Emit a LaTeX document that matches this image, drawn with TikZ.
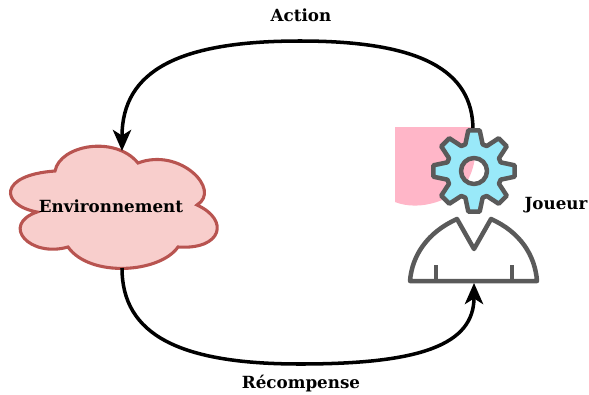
\documentclass[tikz,border=0pt]{standalone}
\usepackage{fontspec}
\setmainfont{DejaVu Serif}
\usetikzlibrary{arrows.meta}
\definecolor{cloudfill}{HTML}{F8CECC}
\definecolor{cloudline}{HTML}{B85450}
\definecolor{gearfill}{HTML}{99E9F9}
\definecolor{pinkfill}{HTML}{FFB6C8}
\definecolor{iconline}{HTML}{5A5A5A}
\tikzset{
    label/.style={font=\bfseries\fontsize{11.9pt}{14pt}\selectfont, inner sep=0pt},
    loopline/.style={line width=2.5pt, black, -{Stealth[length=15pt, width=13pt, inset=4pt]}},
    icon/.style={line width=3.2pt, iconline, line join=round}
}
\begin{document}
\begin{tikzpicture}[x=0.025cm, y=-0.025cm]
            \useasboundingbox (0, 0) rectangle (589, 394);
            %
            \fill[pinkfill] (395, 127) -- (473, 127) .. controls (479, 150) and (474, 168) .. (468, 180)
                .. controls (455, 200) and (420, 212) .. (395, 202) -- cycle;
            %
            \draw[line width=2.2pt, cloudline, fill=cloudfill] (55, 171)
                .. controls (60, 145) and (115, 135) .. (138, 163)
                .. controls (180, 147) and (222, 190) .. (197, 205)
                .. controls (230, 220) and (222, 250) .. (178, 247)
                .. controls (160, 273) and (90, 278) .. (68, 247)
                .. controls (30, 258) and (0, 225) .. (37, 212)
                .. controls (0, 205) and (-2, 175) .. (55, 171) -- cycle;
            \node[label] (env) at (111, 206) {Environnement};
            \coordinate (envtop) at (122, 151);
            \coordinate (envbottom) at (122, 268);
            %
            \coordinate (geartop) at (473, 130);
            \draw[loopline] (geartop) .. controls (473, 70) and (420, 41) .. (300, 41)
                .. controls (180, 41) and (122, 70) .. (envtop);
            \draw[icon, fill=gearfill, even odd rule, shift={(474, 171)}] (-18:28)
                \foreach \a in {0, 45, ..., 315} {
                    -- (\a-18:28) -- (\a-8:41) -- (\a+8:41) -- (\a+18:28) -- (\a+27:28)
                } -- cycle
                (0, 0) circle[radius=13];
            %
            \draw[icon] (410, 281) .. controls (412, 255) and (428, 232) .. (457, 219)
                -- (474, 249) -- (491, 219)
                .. controls (520, 232) and (535, 255) .. (537, 281) -- cycle;
            \draw[icon] (436, 265) -- (436, 281);
            \draw[icon] (512, 265) -- (512, 281);
            \coordinate (personbottom) at (474, 283);
            \node[label] (player) at (556, 205) {Joueur};
            %
            \draw[loopline] (envbottom) .. controls (122, 335) and (180, 364) .. (300, 364)
                .. controls (420, 364) and (474, 345) .. (personbottom);
            %
            \node[label] (action) at (301, 15) {Action};
            \node[label] (reward) at (301, 384) {Récompense};
\end{tikzpicture}
\end{document}
